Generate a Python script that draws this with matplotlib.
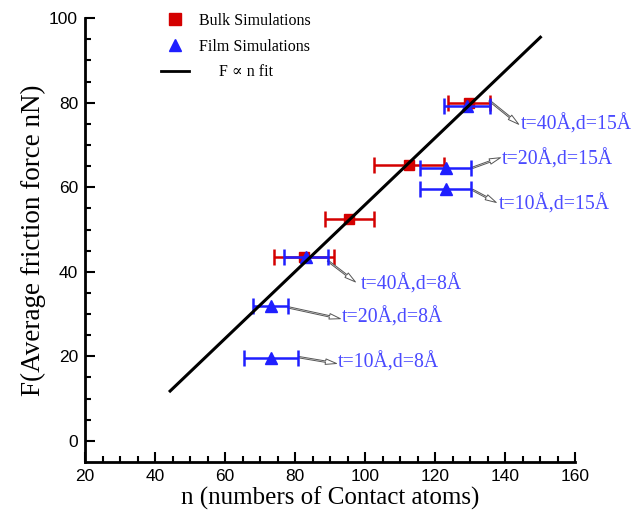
import numpy as np
import matplotlib
matplotlib.use('Agg')
import matplotlib.pyplot as plt
from matplotlib.lines import Line2D
from matplotlib.ticker import MultipleLocator

# bulk simulations (red squares)
bulk_n = [129.5, 112.5, 95.5, 82.5]
bulk_f = [80.0, 65.3, 52.5, 43.5]
bulk_err = [6.0, 10.0, 7.0, 8.5]

# film simulations (blue triangles)
film_n = [129.0, 123.0, 123.0, 83.0, 73.0, 73.0]
film_f = [79.2, 64.6, 59.7, 43.5, 31.8, 19.6]
film_err = [6.5, 7.3, 7.3, 6.3, 5.0, 7.7]

# linear fit F = a*n + b
fit_n = [44.3, 150.0]
fit_a, fit_b = 0.792, -23.3

# annotation labels: text, text position, arrow tail, arrow head
labels = ['t=40Å,d=15Å', 't=20Å,d=15Å', 't=10Å,d=15Å',
          't=40Å,d=8Å', 't=20Å,d=8Å', 't=10Å,d=8Å']
text_pos = [(144.4, 74.8), (139.1, 66.5), (138.0, 55.9),
            (98.6, 37.0), (93.4, 29.2), (92.3, 18.6)]
arrow_tail = [(135.4, 80.5), (130.6, 64.6), (130.6, 59.4),
              (89.3, 42.6), (77.9, 31.6), (81.0, 19.8)]
arrow_head = [(143.8, 74.9), (138.6, 67.0), (137.4, 56.4),
              (97.2, 37.6), (92.9, 28.9), (91.8, 18.3)]

serif = ['Liberation Serif', 'DejaVu Serif']
sans = ['Liberation Sans', 'DejaVu Sans']

fig = plt.figure(figsize=(6.32, 5.16), dpi=100)
ax = fig.add_axes([0.1345, 0.1047, 0.776, 0.860])

ax.errorbar(bulk_n, bulk_f, xerr=bulk_err, fmt='s', color='#d40000',
            ms=7, elinewidth=1.8, capsize=5.5, capthick=1.8, zorder=3)
ax.errorbar(film_n, film_f, xerr=film_err, fmt='^', color='#1f1fff',
            ms=8, elinewidth=1.8, capsize=5.5, capthick=1.8, zorder=4)

xf = np.array(fit_n)
ax.plot(xf, fit_a * xf + fit_b, color='black', lw=2.2, zorder=5)

for lab, tp, tl, hd in zip(labels, text_pos, arrow_tail, arrow_head):
    ax.annotate('', xy=hd, xytext=tl,
                arrowprops=dict(arrowstyle='simple,head_length=0.8,head_width=0.4,tail_width=0.1',
                                fc='white', ec='#555555', lw=0.7,
                                shrinkA=0, shrinkB=0))
    ax.text(tp[0], tp[1], lab, color='#4a4aff', fontsize=14.3,
            family=serif, va='center', ha='left')

ax.set_xlim(20, 160)
ax.set_ylim(-5, 100)
ax.xaxis.set_major_locator(MultipleLocator(20))
ax.xaxis.set_minor_locator(MultipleLocator(5))
ax.set_yticks(np.arange(0, 101, 20))
ax.set_yticks(np.arange(0, 101, 5), minor=True)
ax.tick_params(which='both', direction='in', width=1.5, color='black')
ax.tick_params(which='major', length=7, labelsize=12.5, pad=5)
ax.tick_params(which='minor', length=4)
for lbl in ax.get_xticklabels() + ax.get_yticklabels():
    lbl.set_family(sans)
for s in ['top', 'right']:
    ax.spines[s].set_visible(False)
for s in ['left', 'bottom']:
    ax.spines[s].set_linewidth(2)

ax.set_xlabel('n (numbers of Contact atoms)', family=serif, fontsize=18, labelpad=2)
ax.set_ylabel('F(Average friction force nN)', family=serif, fontsize=19.5, labelpad=2)

handles = [Line2D([], [], marker='s', color='#d40000', ls='none', ms=8),
           Line2D([], [], marker='^', color='#1f1fff', ls='none', ms=9),
           Line2D([], [], color='black', lw=2)]
names = ['Bulk Simulations', 'Film Simulations', '     F ∝ n fit']
ax.legend(handles, names, loc='upper left', bbox_to_anchor=(0.125, 1.045),
          frameon=False, prop={'family': serif, 'size': 11.5},
          handlelength=1.8, handletextpad=0.6, labelspacing=0.62)

fig.savefig('out.png', dpi=100)
